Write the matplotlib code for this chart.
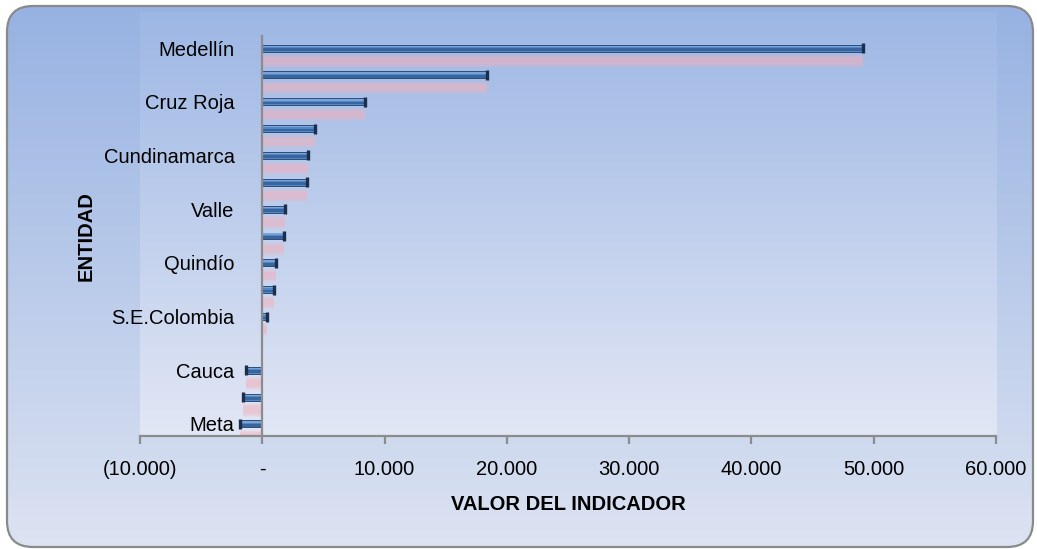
import numpy as np
import matplotlib.pyplot as plt
from matplotlib.patches import FancyBboxPatch
from matplotlib.colors import LinearSegmentedColormap
from matplotlib.ticker import FuncFormatter

plt.rcParams['font.family'] = ['Liberation Sans', 'DejaVu Sans']

# datos (de arriba hacia abajo)
entidades = ['Medellín', '', 'Cruz Roja', '', 'Cundinamarca', '', 'Valle', '',
             'Quindío', '', 'S.E.Colombia', '', 'Cauca', '', 'Meta']
valores = [49150, 18350, 8400, 4300, 3700, 3650, 1850, 1800,
           1100, 950, 350, 0, -1300, -1600, -1800]
x_ticks = [-10000, 0, 10000, 20000, 30000, 40000, 50000, 60000]


def formato(v, pos=None):
    if v == 0:
        return '-'
    s = f"{abs(v):,.0f}".replace(',', '.')
    return f"({s})" if v < 0 else s


fig = plt.figure(figsize=(10.37, 5.49), dpi=100)

# fondo con degradado y esquinas redondeadas (coordenadas en pixeles)
bg = fig.add_axes([0, 0, 1, 1], zorder=-10)
bg.axis('off')
caja = FancyBboxPatch((7, 2), 1026, 541, boxstyle="round,pad=0,rounding_size=26",
                      facecolor='none', edgecolor='none')
bg.add_patch(caja)
grad = np.linspace(0, 1, 256).reshape(-1, 1)
cmap_fondo = LinearSegmentedColormap.from_list('fondo', ['#97B2E2', '#DCE3F2'])
img = bg.imshow(grad, extent=(7, 1033, 2, 543), aspect='auto', cmap=cmap_fondo)
img.set_clip_path(caja)
cmap_area = LinearSegmentedColormap.from_list('area', ['#9DB7E4', '#E2E7F5'])
bg.imshow(grad, extent=(140, 997, 112, 537), aspect='auto', cmap=cmap_area)
bg.add_patch(FancyBboxPatch((7, 2), 1026, 541, boxstyle="round,pad=0,rounding_size=26",
                            facecolor='none', edgecolor='#8A8A8A', linewidth=1.6))
bg.set_xlim(0, 1037)
bg.set_ylim(0, 549)

# grafico de barras
ax = fig.add_axes([140 / 1037, 113 / 549, 856 / 1037, 400 / 549])
ax.patch.set_visible(False)
pos = np.arange(len(valores))[::-1]
valores = np.array(valores)

# sombra rosada difuminada
for h, a in [(0.50, 0.12), (0.42, 0.16), (0.34, 0.22), (0.26, 0.28)]:
    ax.barh(pos - 0.48, valores, height=h, color='#F2B2BE', alpha=a, linewidth=0)

# barra azul con efecto cilindrico
ax.barh(pos, valores, height=0.26, color='#5186C8', edgecolor='#2E4E78', linewidth=0.7)
ax.barh(pos - 0.05, valores, height=0.1, color='#3A649C', linewidth=0)
ax.barh(pos + 0.07, valores, height=0.05, color='#7AA3DA', linewidth=0)
no_cero = valores != 0
ax.scatter(valores[no_cero], pos[no_cero], marker='|', s=55, linewidths=2.4,
           color='#1B2F4D', zorder=3)

ax.set_xlim(-10000, 60000)
ax.set_ylim(-0.45, 14.45)
ax.set_xticks(x_ticks)
ax.xaxis.set_major_formatter(FuncFormatter(formato))
ax.set_yticks(pos)
ax.set_yticklabels(entidades)

for lado in ['top', 'right']:
    ax.spines[lado].set_visible(False)
ax.spines['left'].set_position(('data', 0))
ax.spines['left'].set_color('#8C8C8C')
ax.spines['left'].set_linewidth(1.6)
ax.spines['bottom'].set_color('#8C8C8C')
ax.spines['bottom'].set_linewidth(1.6)

ax.tick_params(axis='x', length=6, width=1.6, color='#8C8C8C', pad=11, labelsize=14.5)
ax.tick_params(axis='y', length=0, pad=20, labelsize=14.5)

ax.set_xlabel('VALOR DEL INDICADOR', fontsize=14.5, fontweight='bold')
ax.xaxis.set_label_coords(0.5, -0.147)
ax.set_ylabel('ENTIDAD', fontsize=14.5, fontweight='bold')
ax.yaxis.set_label_coords(-0.052, 0.5)

fig.savefig('out.png', dpi=100)
